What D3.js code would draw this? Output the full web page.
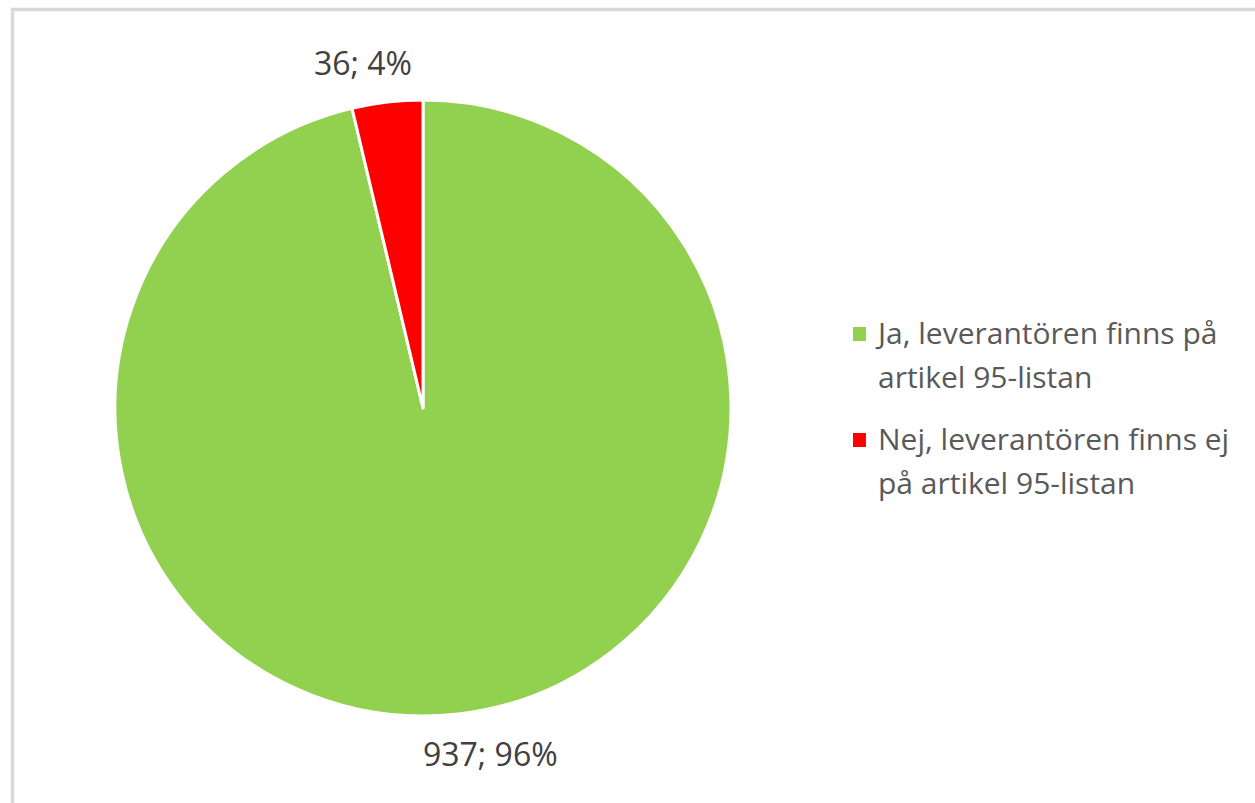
<!DOCTYPE html>
<html lang="sv">
<head>
<meta charset="UTF-8">
<script src="https://d3js.org/d3.v7.min.js"></script>
<style>
  body { margin: 0; background: #fff; }
  svg { display: block; }
  text { font-family: "Open Sans", sans-serif; }
</style>
</head>
<body>
<svg id="chart" width="1255" height="803"></svg>
<script>
  // data
  const categories = [
    'Ja, leverantören finns på artikel 95-listan',
    'Nej, leverantören finns ej på artikel 95-listan'
  ];
  const legendLines = [
    ['Ja, leverantören finns på', 'artikel 95-listan'],
    ['Nej, leverantören finns ej', 'på artikel 95-listan']
  ];
  const values = [937, 36];
  const colors = ['#92d050', '#ff0000'];

  const svg = d3.select('#chart');
  const width = 1255, height = 803;

  // chart frame (runs off the right and bottom edge)
  svg.append('rect')
    .attr('x', 12.5).attr('y', 9.5)
    .attr('width', width + 20).attr('height', height + 20)
    .attr('fill', 'none')
    .attr('stroke', '#d9d9d9')
    .attr('stroke-width', 3.5);

  const cx = 423, cy = 408, r = 308;
  const total = d3.sum(values);

  const pie = d3.pie().sort(null).value(d => d.value);
  const arc = d3.arc().innerRadius(0).outerRadius(r);
  const data = values.map((v, i) => ({ name: categories[i], value: v, color: colors[i] }));
  const arcs = pie(data);

  const g = svg.append('g').attr('transform', 'translate(' + cx + ',' + cy + ')');

  g.selectAll('path')
    .data(arcs)
    .enter()
    .append('path')
    .attr('d', arc)
    .attr('fill', d => d.data.color)
    .attr('stroke', '#fff')
    .attr('stroke-width', 3)
    .attr('stroke-linejoin', 'round');

  // outside-end data labels
  const pct = d3.format('.0%');
  g.selectAll('.label')
    .data(arcs)
    .enter()
    .append('text')
    .attr('class', 'label')
    .attr('text-anchor', 'middle')
    .attr('dominant-baseline', 'central')
    .attr('fill', '#404040')
    .style('font-size', '32px')
    .text(d => d.data.value + '; ' + pct(d.data.value / total))
    .each(function (d) {
      const a = (d.startAngle + d.endAngle) / 2;
      const rl = r + 40;
      const w = this.getComputedTextLength();
      const x = Math.sin(a) * rl + Math.sign(Math.sin(a)) * w * 0.2;
      const y = -Math.cos(a) * rl;
      d3.select(this).attr('x', x).attr('y', y);
    });

  // legend
  const legend = svg.append('g').attr('transform', 'translate(853, 327)');
  const item = legend.selectAll('g')
    .data(data)
    .enter()
    .append('g')
    .attr('transform', (d, i) => 'translate(0,' + (i * 106) + ')');

  item.append('rect')
    .attr('width', 13).attr('height', 14)
    .attr('fill', d => d.color);

  item.append('text')
    .attr('x', 25)
    .attr('fill', '#595959')
    .style('font-size', '30px')
    .selectAll('tspan')
    .data((d, i) => legendLines[i])
    .enter()
    .append('tspan')
    .attr('x', 25)
    .attr('y', (d, j) => 17 + j * 44)
    .text(d => d);
</script>
</body>
</html>
